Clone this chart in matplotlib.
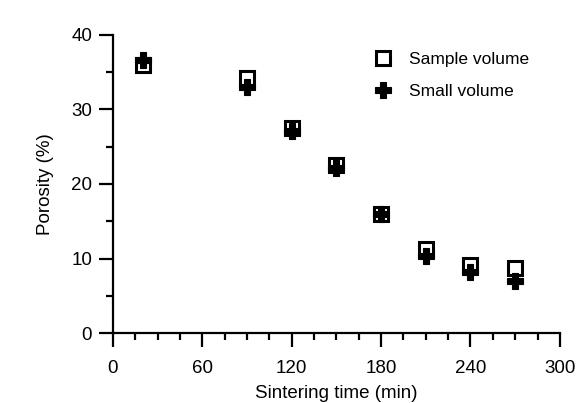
import numpy as np
import matplotlib
matplotlib.use('Agg')
import matplotlib.pyplot as plt
from matplotlib.ticker import MultipleLocator

plt.rcParams['font.family'] = ['Liberation Sans', 'DejaVu Sans']
plt.rcParams['font.size'] = 13

# sintering time (min) and porosity (%)
time = [20, 90, 120, 150, 180, 210, 240, 270]
sample_volume = [36.0, 34.2, 27.5, 22.5, 16.0, 11.3, 9.2, 8.8]
small_volume = [36.6, 33.0, 27.1, 22.2, 16.0, 10.4, 8.2, 7.0]

fig = plt.figure(figsize=(5.76, 4.03), dpi=100)
ax = fig.add_axes([0.196, 0.173, 0.776, 0.741])

ax.plot(time, small_volume, ls='none', marker='P', ms=11.5, mfc='black', mec='black',
        mew=0.8, label='Small volume', zorder=3)
ax.plot(time, sample_volume, ls='none', marker='s', ms=9.5, mfc='white', mec='black',
        mew=2.2, label='Sample volume', zorder=2)

ax.set_xlim(0, 300)
ax.set_ylim(0, 40)
ax.xaxis.set_major_locator(MultipleLocator(60))
ax.xaxis.set_minor_locator(MultipleLocator(15))
ax.yaxis.set_major_locator(MultipleLocator(10))
ax.yaxis.set_minor_locator(MultipleLocator(5))

for s in ['top', 'right']:
    ax.spines[s].set_visible(False)
for s in ['left', 'bottom']:
    ax.spines[s].set_linewidth(1.6)
ax.tick_params(which='major', direction='out', length=10, width=1.6, labelsize=13.5, pad=5)
ax.tick_params(axis='x', which='major', pad=9)
ax.tick_params(which='minor', direction='out', length=5, width=1.6)

ax.set_xlabel('Sintering time (min)', fontsize=13.5, labelpad=6)
ax.set_ylabel('Porosity (%)', fontsize=13.5, labelpad=12)

h, l = ax.get_legend_handles_labels()
ax.legend(h[::-1], l[::-1], loc='upper left', bbox_to_anchor=(0.55, 0.995), frameon=False,
          handlelength=1.0, handletextpad=1.0, labelspacing=1.0, fontsize=12.5)

fig.savefig('out.png', dpi=100)
